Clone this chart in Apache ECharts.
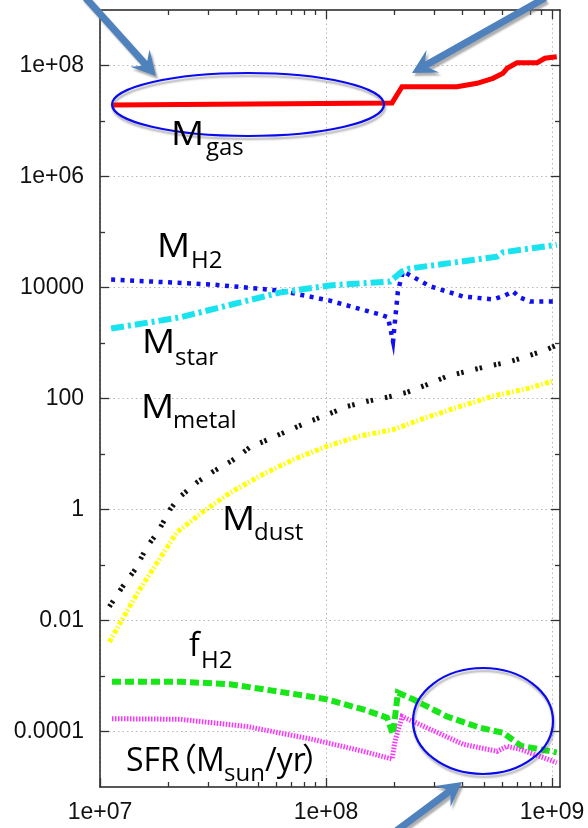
<!DOCTYPE html>
<html><head><meta charset="utf-8">
<script src="https://cdn.jsdelivr.net/npm/echarts@6/dist/echarts.min.js"></script>
<style>html,body{margin:0;padding:0;background:#fff}#c{width:588px;height:828px}</style>
</head><body><div id="c"></div>
<script>
// ---------- tick definitions ----------
const xTickValues = [1e7, 1e8, 1e9];
const xTickLabels = ['1e+07', '1e+08', '1e+09'];
const xMinorTicks = [2e7, 3e7, 4e7, 5e7, 6e7, 7e7, 8e7, 9e7, 2e8, 3e8, 4e8, 5e8, 6e8, 7e8, 8e8, 9e8];
const yTickValues = [1e-4, 1e-2, 1, 1e2, 1e4, 1e6, 1e8];
const yTickLabels = ['0.0001', '0.01', '1', '100', '10000', '1e+06', '1e+08'];
const yMinorTicks = [1e-3, 1e-1, 10, 1e3, 1e5, 1e7];

// ---------- series data ----------
const gasX = [1.13e7, 1.96e8, 2.17e8, 3.80e8, 4.66e8, 5.48e8, 6.07e8, 6.33e8, 7.0e8, 8.6e8, 9.3e8, 1.05e9];
const gasY = [1.94e7, 2.12e7, 4.15e7, 4.15e7, 4.78e7, 5.88e7, 7.23e7, 8.9e7, 1.12e8, 1.12e8, 1.35e8, 1.44e8];

const h2X = [1.12e7, 3.16e7, 6.25e7, 1.04e8, 1.73e8, 1.88e8, 1.98e8, 2.08e8, 2.19e8, 2.89e8, 4.04e8, 5.48e8, 6.20e8, 6.72e8, 7.21e8, 8.0e8, 1.05e9];
const h2Y = [1.39e4, 1.13e4, 8.8e3, 5.8e3, 3.27e3, 2.9e3, 1.07e3, 8.5e3, 1.95e4, 1.05e4, 6.9e3, 6.1e3, 7.2e3, 8.5e3, 6.6e3, 5.6e3, 5.6e3];

const starX = [1.12e7, 2.26e7, 6.25e7, 1.04e8, 1.92e8, 2.17e8, 2.35e8, 5.71e8, 6.07e8, 1.05e9];
const starY = [1.82e3, 2.9e3, 8.1e3, 1.09e4, 1.28e4, 1.95e4, 2.2e4, 3.6e4, 4.3e4, 5.9e4];

const metalX = [1.10e7, 1.26e7, 1.43e7, 1.61e7, 1.81e7, 2.04e7, 2.26e7, 2.69e7, 3.16e7, 3.84e7, 4.61e7, 5.54e7, 6.71e7, 8.24e7, 1.01e8, 1.24e8, 1.52e8, 1.86e8, 2.28e8, 2.80e8, 3.43e8, 4.21e8, 5.16e8, 6.33e8, 7.75e8, 9.5e8, 1.03e9];
const metalY = [0.0178, 0.041, 0.083, 0.21, 0.40, 1.0, 1.7, 3.1, 4.8, 7.6, 13.2, 18.2, 25.7, 37, 51, 72, 89, 105, 129, 178, 251, 309, 380, 447, 575, 760, 890];

const dustX = [1.10e7, 1.23e7, 1.47e7, 1.79e7, 2.19e7, 2.86e7, 3.76e7, 5.26e7, 7.14e7, 1.01e8, 1.41e8, 1.98e8, 2.80e8, 3.92e8, 5.48e8, 7.75e8, 1.0e9];
const dustY = [0.0041, 0.0091, 0.032, 0.11, 0.39, 0.91, 2.0, 4.3, 7.9, 13.8, 21, 27.5, 46, 72, 110, 151, 204];

const fh2X = [1.13e7, 2.26e7, 3.76e7, 6.25e7, 1.01e8, 1.46e8, 1.86e8, 1.98e8, 2.08e8, 2.43e8, 3.43e8, 4.80e8, 6.07e8, 7.3e8, 1.05e9];
const fh2Y = [7.9e-4, 7.9e-4, 7.1e-4, 5.2e-4, 3.8e-4, 2.5e-4, 1.78e-4, 8.9e-5, 5.0e-4, 3.8e-4, 1.86e-4, 1.17e-4, 9.5e-5, 5.5e-5, 4.2e-5];

const sfrX = [1.13e7, 2.26e7, 4.47e7, 8.75e7, 1.46e8, 1.96e8, 2.02e8, 2.17e8, 2.89e8, 4.04e8, 5.71e8, 6.33e8, 7.21e8, 1.05e9];
const sfrY = [1.70e-4, 1.66e-4, 1.23e-4, 7.2e-5, 4.4e-5, 3.2e-5, 6.6e-5, 1.86e-4, 1.10e-4, 5.9e-5, 4.4e-5, 5.4e-5, 4.8e-5, 2.75e-5];

// ---------- helpers ----------
const zip = (xs, ys) => xs.map((x, i) => [x, ys[i]]);
function labelFmt(values, labels) {
  return function (v) {
    for (let i = 0; i < values.length; i++) {
      if (Math.abs(Math.log10(v) - Math.log10(values[i])) < 1e-6) return labels[i];
    }
    return '';
  };
}
const X_MIN = 1e7, X_MAX = 1.085e9, Y_MIN = 1e-5, Y_MAX = 1e9;
const frame = { color: '#222', width: 1.5 };
const tickStyle = { color: '#333', width: 1.3 };
const gridLine = { color: '#b8b8b8', width: 1, type: [1.5, 3] };
const labelFont = { fontSize: 23, fontFamily: 'Liberation Sans', color: '#111' };

function xAx(pos, major) {
  return {
    type: 'log', logBase: 10, min: X_MIN, max: X_MAX, position: pos, gridIndex: 0,
    axisLine: { show: major, lineStyle: frame },
    axisTick: { show: true, inside: true, length: major ? 9 : 5, customValues: major ? xTickValues : xMinorTicks, lineStyle: tickStyle },
    axisLabel: Object.assign({ show: major && pos === 'bottom', customValues: xTickValues, formatter: labelFmt(xTickValues, xTickLabels), margin: 14 }, labelFont),
    splitLine: { show: major && pos === 'bottom', lineStyle: gridLine },
    minorTick: { show: false }, minorSplitLine: { show: false }
  };
}
function yAx(pos, major) {
  return {
    type: 'log', logBase: 10, min: Y_MIN, max: Y_MAX, position: pos, gridIndex: 0,
    axisLine: { show: major, lineStyle: frame },
    axisTick: { show: true, inside: true, length: major ? 9 : 5, customValues: major ? yTickValues : yMinorTicks, lineStyle: tickStyle },
    axisLabel: Object.assign({ show: major && pos === 'left', customValues: yTickValues, formatter: labelFmt(yTickValues, yTickLabels), margin: 16 }, labelFont),
    splitLine: { show: major && pos === 'left', lineStyle: gridLine },
    minorTick: { show: false }, minorSplitLine: { show: false }
  };
}

function line(name, xs, ys, color, width, type, z) {
  return {
    name, type: 'line', xAxisIndex: 0, yAxisIndex: 0, data: zip(xs, ys),
    showSymbol: false, symbol: 'none', smooth: false, z: z || 2,
    lineStyle: { color, width, type, cap: 'butt', join: 'miter' },
    emphasis: { disabled: true }
  };
}

// ---------- annotation graphics ----------
function arrow(x1, y1, x2, y2) {
  const sw = 7, hl = 24, hw = 26, notch = 7;
  const dx = x2 - x1, dy = y2 - y1, L = Math.hypot(dx, dy);
  const ux = dx / L, uy = dy / L, px = -uy, py = ux;
  const bx = x2 - ux * hl, by = y2 - uy * hl;
  const nx = x2 - ux * (hl - notch), ny = y2 - uy * (hl - notch);
  const pts = [
    [x1 + px * sw / 2, y1 + py * sw / 2],
    [nx + px * sw / 2, ny + py * sw / 2],
    [bx + px * hw / 2, by + py * hw / 2],
    [x2, y2],
    [bx - px * hw / 2, by - py * hw / 2],
    [nx - px * sw / 2, ny - py * sw / 2],
    [x1 - px * sw / 2, y1 - py * sw / 2]
  ];
  return {
    type: 'polygon', z: 100, shape: { points: pts },
    style: { fill: '#4f81bd', shadowColor: 'rgba(120,120,120,0.6)', shadowOffsetX: 2, shadowOffsetY: 3, shadowBlur: 2 }
  };
}
function ellipse(cx, cy, rx, ry) {
  return {
    type: 'ellipse', z: 99, shape: { cx, cy, rx, ry },
    style: { fill: 'none', stroke: '#0a0aee', lineWidth: 2.2, shadowColor: 'rgba(100,100,100,0.5)', shadowOffsetX: 1, shadowOffsetY: 3, shadowBlur: 2 }
  };
}
const MAIN = 32, SUB = 24, FF = '"Open Sans", "Noto Sans CJK SC", sans-serif';
function txt(s, x, baseline, size, sx) {
  return {
    type: 'text', z: 101, x: x, y: baseline - 0.36 * size, scaleX: sx || 1,
    style: { text: s, font: size + 'px ' + FF, fill: '#000', align: 'left', verticalAlign: 'middle' }
  };
}
const MW = 1.15;

const graphics = [
  ellipse(248, 104.5, 136, 31.5),
  ellipse(483, 721, 70, 53),
  arrow(84, -4, 156, 76),
  arrow(545, -2, 412, 73),
  arrow(392, 834, 462, 782),
  txt('M', 171, 147, MAIN, MW), txt('gas', 206, 157, SUB),
  txt('M', 157, 259, MAIN, MW), txt('H2', 191, 270, SUB),
  txt('M', 142, 355, MAIN, MW), txt('star', 175, 367, SUB),
  txt('M', 141, 420, MAIN, MW), txt('metal', 173, 430, SUB),
  txt('M', 222, 532, MAIN, MW), txt('dust', 254, 542, SUB),
  txt('f', 189, 658, MAIN), txt('H2', 201, 670, SUB),
  txt('SFR', 126, 773, MAIN), txt('（', 165, 773, MAIN), txt('M', 196, 773, MAIN),
  txt('sun', 224, 783, SUB), txt('/yr', 265, 773, MAIN), txt('）', 302, 773, MAIN)
];

const chart = echarts.init(document.getElementById('c'), null, { renderer: 'canvas' });
chart.setOption({
  animation: false,
  backgroundColor: '#fff',
  grid: { left: 100, right: 28, top: 10, bottom: 41, containLabel: false, outerBoundsMode: 'none' },
  xAxis: [xAx('bottom', true), xAx('bottom', false), xAx('top', true), xAx('top', false)],
  yAxis: [yAx('left', true), yAx('left', false), yAx('right', true), yAx('right', false)],
  series: [
    line('M_gas', gasX, gasY, '#ff0000', 5, 'solid', 3),
    line('M_H2', h2X, h2Y, '#1010f0', 4.5, [4, 5.5], 3),
    line('M_star', starX, starY, '#19e3ef', 6, [13, 4, 3, 4], 4),
    line('M_metal', metalX, metalY, '#111111', 5, [2.5, 2, 2.5, 12], 3),
    line('M_dust', dustX, dustY, '#ffff00', 5, [4, 2, 1.5, 2.5], 3),
    line('f_H2', fh2X, fh2Y, '#19e619', 6, [9, 4], 3),
    line('SFR', sfrX, sfrY, '#ff33ff', 5, [1.5, 1.5], 3)
  ],
  graphic: graphics
});
</script></body></html>
